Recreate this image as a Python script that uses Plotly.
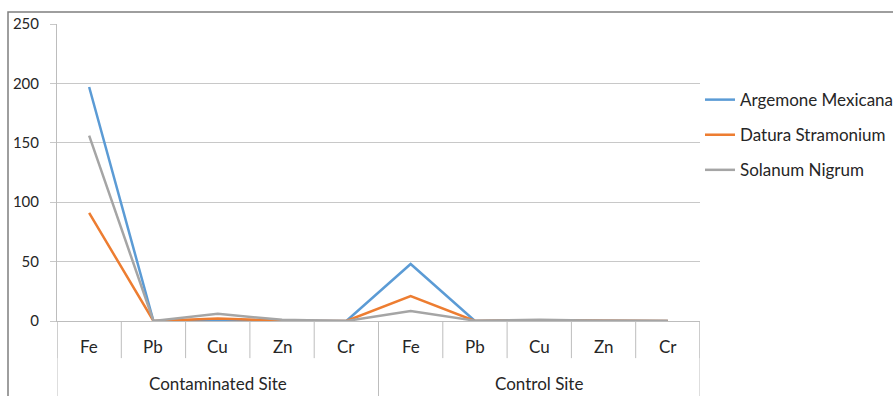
import plotly.graph_objects as go

# Sampling sites and the metals measured at each
sites = ["Contaminated Site"] * 5 + ["Control Site"] * 5
metals = ["Fe", "Pb", "Cu", "Zn", "Cr", "Fe", "Pb", "Cu", "Zn", "Cr"]

# Metal concentrations per plant species
argemone_mexicana = [197, 0, 0.5, 0.2, 0, 48, 0, 0.5, 0.2, 0]
datura_stramonium = [91, 0, 2, 0.3, 0, 21, 0, 0.6, 0.3, 0]
solanum_nigrum = [156, 0, 6, 1, 0, 8.5, 0.3, 1, 0.3, 0]

series = [
    ("Argemone Mexicana", argemone_mexicana, "#5B9BD5"),
    ("Datura Stramonium", datura_stramonium, "#ED7D31"),
    ("Solanum Nigrum", solanum_nigrum, "#A5A5A5"),
]

FONT = "Lato"
GRID = "#c8c8c8"
AXIS = "#bdbdbd"
TEXT = "#262626"

fig = go.Figure()
for name, values, color in series:
    fig.add_trace(go.Scatter(
        x=[sites, metals], y=values, name=name, mode="lines",
        line=dict(color=color, width=2.5),
        legendgroup=name,
    ))

n = len(metals)
shapes = []
# short ticks between metals
for i in range(n + 1):
    shapes.append(dict(type="line", xref="x", yref="paper",
                       x0=i - 0.5, x1=i - 0.5, y0=0, y1=-0.125,
                       line=dict(color=AXIS, width=1)))
# long dividers between sites
for b in (-0.5, 4.5, 9.5):
    shapes.append(dict(type="line", xref="x", yref="paper",
                       x0=b, x1=b, y0=0, y1=-0.4,
                       line=dict(color=AXIS, width=1)))
# chart-area frame
shapes.append(dict(type="rect", xref="paper", yref="paper",
                   x0=-0.0762, x1=1.6, y0=-0.6, y1=1.0404,
                   line=dict(color="#7f7f7f", width=1.5), layer="below"))

annotations = []
# metal labels under each category
for i, m in enumerate(metals):
    annotations.append(dict(x=i, y=-0.0875, xref="x", yref="paper",
                            text=m, showarrow=False, yanchor="middle",
                            font=dict(family=FONT, size=17, color=TEXT)))
# site labels centred under each group
unique_sites = list(dict.fromkeys(sites))
for s in unique_sites:
    idx = [i for i, v in enumerate(sites) if v == s]
    annotations.append(dict(x=(idx[0] + idx[-1]) / 2, y=-0.212,
                            xref="x", yref="paper",
                            text=s, showarrow=False, yanchor="middle",
                            font=dict(family=FONT, size=17, color=TEXT)))

fig.update_layout(
    width=893, height=396,
    margin=dict(l=57, r=193, t=24, b=75, autoexpand=False),
    paper_bgcolor="white", plot_bgcolor="white",
    font=dict(family=FONT, size=17, color=TEXT),
    showlegend=True,
    legend=dict(
        x=1.0, xanchor="left", y=0.626, yanchor="middle",
        font=dict(family=FONT, size=17, color=TEXT),
        tracegroupgap=10, itemwidth=30,
        bgcolor="rgba(0,0,0,0)",
    ),
    xaxis=dict(
        type="multicategory",
        range=[-0.5, n - 0.5],
        showgrid=False,
        showline=True, linecolor=AXIS, linewidth=1,
        ticks="", showdividers=False, showticklabels=False,
    ),
    yaxis=dict(
        range=[0, 250], tickvals=[0, 50, 100, 150, 200, 250],
        showgrid=True, gridcolor=GRID, gridwidth=1,
        zeroline=False,
        showline=True, linecolor=AXIS, linewidth=1,
        ticks="outside", ticklen=6, tickcolor=GRID,
        ticklabelstandoff=8,
        tickfont=dict(family=FONT, size=15, color=TEXT),
    ),
    shapes=shapes,
    annotations=annotations,
)

fig.write_html("out.html")
